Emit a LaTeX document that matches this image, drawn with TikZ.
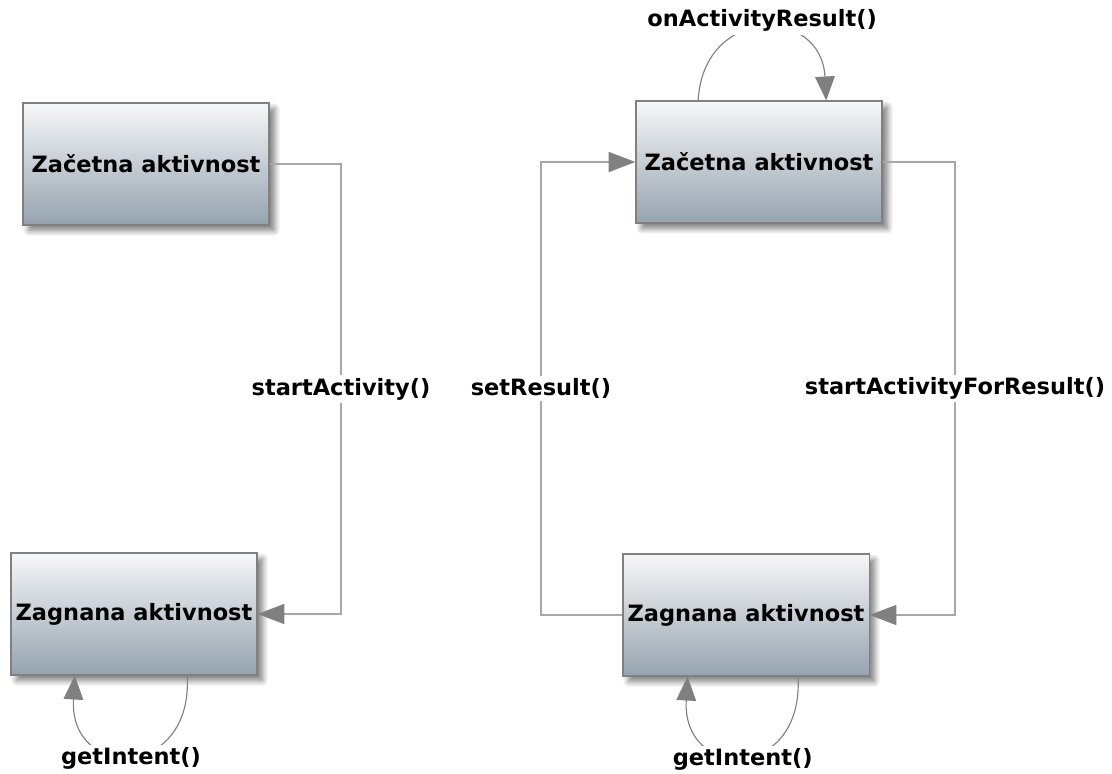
\documentclass[tikz,border=0pt]{standalone}
\usepackage{fontspec}
\setmainfont{DejaVu Sans}
\usepackage{tikz}
\usetikzlibrary{shapes,arrows,arrows.meta,positioning,shadows.blur}

\definecolor{boxtop}{RGB}{246,247,248}
\definecolor{boxbot}{RGB}{150,163,175}
\definecolor{wire}{RGB}{168,168,168}
\definecolor{tip}{RGB}{128,128,128}

\tikzset{
	activity/.style={rectangle,draw=tip,line width=0.8pt,top color=boxtop,bottom color=boxbot,
		minimum width=6.15cm,minimum height=3.05cm,font=\fontsize{16}{19}\selectfont\bfseries,
		blur shadow={shadow xshift=4pt,shadow yshift=-4pt,shadow opacity=50,shadow blur steps=8,shadow blur radius=4pt}},
	call/.style={fill=white,inner sep=2pt,font=\fontsize{16}{19}\selectfont\bfseries},
	flow/.style={draw=wire,line width=1.8pt,-{Triangle[length=19pt,width=14pt,color=tip]}},
	selfcall/.style={draw=tip,line width=0.8pt,-{Triangle[length=17pt,width=14pt,color=tip]}}
}

\begin{document}
\begin{tikzpicture}[x=0.025cm,y=-0.025cm]
		\useasboundingbox (0,0) rectangle (1112,774);
		% the activities
		\node[activity] (zacL) at (146,164) {Začetna aktivnost};
		\node[activity] (zagL) at (134,614) {Zagnana aktivnost};
		\node[activity] (zacR) at (759,162) {Začetna aktivnost};
		\node[activity] (zagR) at (746,615) {Zagnana aktivnost};
		%% corners of the calls
		\coordinate (cStart) at (341,164);
		\coordinate (cFor) at (955,162);
		\coordinate (cSet) at (541,615);
		%% left: plain start
		\draw[flow] (zacL.east) -- (cStart) |- node[call,pos=0.25] (lStart) {startActivity()} (zagL.east);
		\draw[selfcall] ([xshift=1.33cm]zagL.south) .. controls +(6,105) and +(-6,105) .. node[call,pos=0.5,yshift=-3pt] (lIntL) {getIntent()} ([xshift=-1.48cm]zagL.south);
		%% right: start for a result
		\draw[flow] (zacR.east) -- (cFor) |- node[call,pos=0.25] (lFor) {startActivityForResult()} (zagR.east);
		\draw[flow] (zagR.west) -- (cSet) |- node[call,pos=0.25] (lSet) {setResult()} (zacR.west);
		\draw[selfcall] ([xshift=1.30cm]zagR.south) .. controls +(6,105) and +(-6,105) .. node[call,pos=0.5,yshift=-3pt] (lIntR) {getIntent()} ([xshift=-1.46cm]zagR.south);
		\draw[selfcall] ([xshift=-1.52cm]zacR.north) .. controls +(5,-95) and +(-5,-95) .. node[call,pos=0.5,yshift=6pt] (lOnRes) {onActivityResult()} ([xshift=1.68cm]zacR.north);
\end{tikzpicture}
\end{document}
